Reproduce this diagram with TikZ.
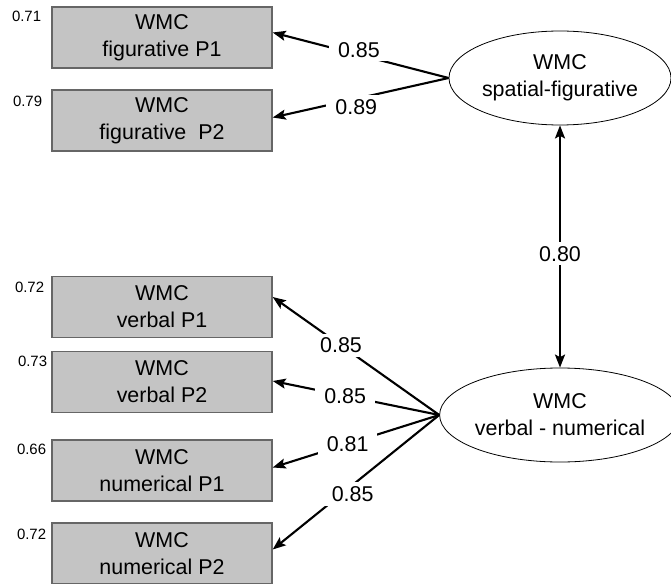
\documentclass[tikz,border=0pt]{standalone}
\usepackage{fontspec}
\setmainfont{Liberation Sans}
\usetikzlibrary{shapes.geometric,arrows.meta}

\definecolor{boxgray}{RGB}{196,196,196}

\tikzset{
  obs/.style={draw=black!60, line width=1.4bp, fill=boxgray,
    minimum width=220bp, minimum height=61bp, inner sep=0pt,
    align=center, font=\fontsize{21.5}{27}\selectfont},
  factor/.style={ellipse, draw, line width=0.8bp,
    minimum width=222bp, minimum height=94bp, inner sep=0pt,
    align=center, font=\fontsize{21.5}{27}\selectfont},
  coef/.style={fill=white, inner xsep=9bp, inner ysep=4bp,
    font=\fontsize{21.5}{25}\selectfont},
  errlbl/.style={anchor=north east, inner sep=0pt,
    font=\fontsize{15}{18}\selectfont},
  loadarrow/.style={line width=2.1bp,
    -{Stealth[length=13bp,width=10bp,inset=2.5bp]}},
  corrarrow/.style={line width=2.1bp,
    {Stealth[length=13bp,width=10bp,inset=2.5bp]}-{Stealth[length=13bp,width=10bp,inset=2.5bp]}}
}

\begin{document}
\begin{tikzpicture}[x=1bp, y=-1bp]
  \useasboundingbox (0,0) rectangle (671,584);

  % indicator boxes
  \node[obs] (f1) at (162,37.5)  {WMC\\figurative P1};
  \node[obs] (f2) at (162,120.5) {WMC\\figurative\ \ P2};
  \node[obs] (v1) at (162,307)   {WMC\\verbal P1};
  \node[obs] (v2) at (162,382)   {WMC\\verbal P2};
  \node[obs] (n1) at (162,470.5) {WMC\\numerical P1};
  \node[obs] (n2) at (162,553.5) {WMC\\numerical P2};

  % error terms
  \node[errlbl] at ([xshift=-10bp,yshift=-5bp]f1.north west) {0.71};
  \node[errlbl] at ([xshift=-9bp,yshift=-7bp]f2.north west)  {0.79};
  \node[errlbl] at ([xshift=-7bp,yshift=-6bp]v1.north west)  {0.72};
  \node[errlbl] at ([xshift=-4bp,yshift=-5bp]v2.north west)  {0.73};
  \node[errlbl] at ([xshift=-5bp,yshift=-5bp]n1.north west)  {0.66};
  \node[errlbl] at ([xshift=-5bp,yshift=-7bp]n2.north west)  {0.72};

  % latent factors
  \node[factor] (sf) at (560,78)  {WMC\\spatial-figurative};
  \node[factor] (vn) at (560,415) {WMC\\verbal - numerical};

  % loadings
  \draw[loadarrow] (sf.west) -- node[coef, pos=0.51, yshift=5bp] {0.85} ([yshift=5bp]f1.east);
  \draw[loadarrow] (sf.west) -- node[coef, pos=0.525, yshift=-8bp] {0.89} ([yshift=3bp]f2.east);
  \draw[loadarrow] (vn.west) -- node[coef, pos=0.59] {0.85} ([yshift=10bp]v1.east);
  \draw[loadarrow] (vn.west) -- node[coef, pos=0.565] {0.85} ([yshift=1bp]v2.east);
  \draw[loadarrow] (vn.west) -- node[coef, pos=0.55] {0.81} ([yshift=3bp]n1.east);
  \draw[loadarrow] (vn.west) -- node[coef, pos=0.52, yshift=-9bp] {0.85} ([yshift=4bp]n2.east);

  % factor correlation
  \draw[corrarrow] (sf.south) -- node[coef, pos=0.53] {0.80} (vn.north);
\end{tikzpicture}
\end{document}
